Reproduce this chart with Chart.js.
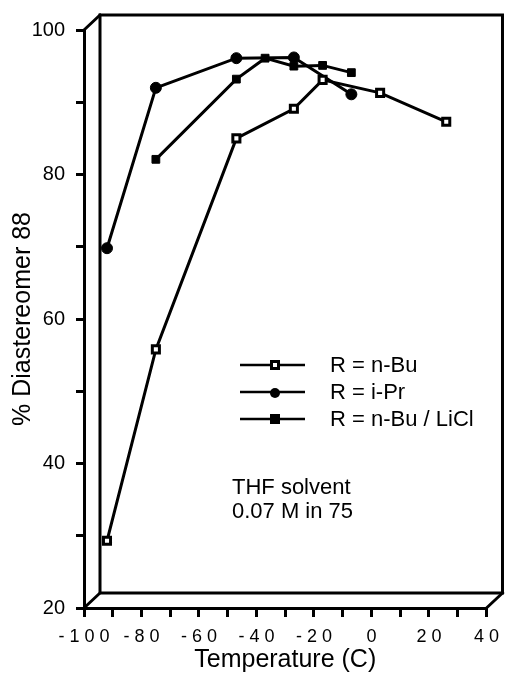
<!DOCTYPE html>
<html>
<head>
<meta charset="utf-8">
<script src="https://cdn.jsdelivr.net/npm/chart.js@4.4.1/dist/chart.umd.min.js"></script>
<style>
  html, body { margin: 0; padding: 0; background: #fff; }
  canvas { display: block; }
</style>
</head>
<body>
<canvas id="chart" width="508" height="675"></canvas>
<script>
// temperatures (C) and % diastereomer 88 for each series
const nBuTemp = [-92, -75, -47, -27, -17, 3, 26];
const nBuPct = [29.3, 55.8, 85.0, 89.1, 93.1, 91.3, 87.3];
const iPrTemp = [-92, -75, -47, -27, -7];
const iPrPct = [69.8, 92.0, 96.1, 96.2, 91.1];
const liclTemp = [-75, -47, -37, -27, -17, -7];
const liclPct = [82.1, 93.2, 96.1, 95.0, 95.1, 94.1];

const seriesNames = ["R = n-Bu", "R = i-Pr", "R = n-Bu / LiCl"];
const noteLines = ["THF solvent", "0.07 M in 75"];

const FONT = "'Liberation Sans', Arial, Helvetica, sans-serif";
Chart.defaults.font.family = FONT;
Chart.defaults.color = "#000";

function pts(xs, ys) {
    return xs.map((x, i) => ({ x: x, y: ys[i] }));
}

// spread the digits like the original typesetting
function spaced(v) {
    return String(v).split("").join(" ");
}

const DX = 16, DY = -15;

const box3d = {
    id: "box3d",
    beforeDatasetsDraw(chart) {
        const { ctx, chartArea: a } = chart;
        ctx.save();
        ctx.strokeStyle = "#000";
        ctx.lineWidth = 3;
        ctx.lineCap = "square";
        // back wall
        ctx.beginPath();
        ctx.rect(a.left + DX, a.top + DY, a.right - a.left, a.bottom - a.top);
        ctx.stroke();
        // depth edges
        ctx.beginPath();
        ctx.moveTo(a.left, a.top);
        ctx.lineTo(a.left + DX, a.top + DY);
        ctx.moveTo(a.left, a.bottom);
        ctx.lineTo(a.left + DX, a.bottom + DY);
        ctx.moveTo(a.right, a.bottom);
        ctx.lineTo(a.right + DX, a.bottom + DY);
        ctx.stroke();
        ctx.restore();
    },
    afterDatasetsDraw(chart) {
        const { ctx } = chart;
        ctx.save();
        // legend
        const rows = [365, 392, 419];
        ctx.font = "22px " + FONT;
        ctx.textBaseline = "middle";
        ctx.textAlign = "left";
        rows.forEach((y, i) => {
            ctx.strokeStyle = "#000";
            ctx.lineWidth = 2.5;
            ctx.beginPath();
            ctx.moveTo(240, y);
            ctx.lineTo(305, y);
            ctx.stroke();
            ctx.fillStyle = "#000";
            if (i === 0) {
                ctx.fillRect(270, y - 5, 10, 10);
                ctx.fillStyle = "#fff";
                ctx.fillRect(273, y - 2, 4, 4);
            } else if (i === 1) {
                ctx.beginPath();
                ctx.arc(275, y + 1, 5, 0, Math.PI * 2);
                ctx.fill();
            } else {
                ctx.fillRect(270, y - 5, 10, 10);
            }
            ctx.fillStyle = "#000";
            ctx.fillText(seriesNames[i], 330, y + 1);
        });
        // note
        ctx.font = "22px " + FONT;
        ctx.fillText(noteLines[0], 232, 488);
        ctx.fillText(noteLines[1], 232, 512);
        ctx.restore();
    }
};

const lineStyle = {
    borderColor: "#000",
    borderWidth: 3,
    pointBorderColor: "#000",
    tension: 0,
    showLine: true,
    fill: false
};

new Chart(document.getElementById("chart"), {
    type: "scatter",
    data: {
        datasets: [
            Object.assign({}, lineStyle, {
                label: seriesNames[0],
                data: pts(nBuTemp, nBuPct),
                pointStyle: "rect",
                pointRadius: 5,
                pointBorderWidth: 3,
                pointBackgroundColor: "#fff"
            }),
            Object.assign({}, lineStyle, {
                label: seriesNames[1],
                data: pts(iPrTemp, iPrPct),
                pointStyle: "circle",
                pointRadius: 5.5,
                pointBorderWidth: 1,
                pointBackgroundColor: "#000"
            }),
            Object.assign({}, lineStyle, {
                label: seriesNames[2],
                data: pts(liclTemp, liclPct),
                pointStyle: "rect",
                pointRadius: 5.5,
                pointBorderWidth: 1,
                pointBackgroundColor: "#000"
            })
        ]
    },
    plugins: [box3d],
    options: {
        responsive: false,
        animation: false,
        layout: { padding: { top: 30, right: 21, bottom: 0, left: 0 } },
        plugins: {
            legend: { display: false },
            tooltip: { enabled: false }
        },
        scales: {
            x: {
                type: "linear",
                min: -100,
                max: 40,
                afterFit(scale) { scale.height = 67; },
                ticks: {
                    stepSize: 10,
                    autoSkip: false,
                    maxRotation: 0,
                    padding: 9,
                    font: { size: 18 },
                    callback: v => (v % 20 === 0 ? spaced(v) : "")
                },
                grid: {
                    drawOnChartArea: false,
                    drawTicks: true,
                    tickLength: 9,
                    color: "#000",
                    lineWidth: 3
                },
                border: { display: true, color: "#000", width: 3 },
                title: {
                    display: true,
                    text: "Temperature (C)",
                    font: { size: 25 },
                    padding: { top: 0, bottom: 0 }
                }
            },
            y: {
                type: "linear",
                min: 20,
                max: 100,
                afterFit(scale) { scale.width = 84; },
                ticks: {
                    stepSize: 10,
                    padding: 11,
                    font: { size: 20 },
                    callback: v => (v % 20 === 0 ? String(v) : "")
                },
                grid: {
                    drawOnChartArea: false,
                    drawTicks: true,
                    tickLength: 8,
                    color: "#000",
                    lineWidth: 3
                },
                border: { display: true, color: "#000", width: 3 },
                title: {
                    display: true,
                    text: "% Diastereomer 88",
                    font: { size: 25 },
                    padding: { top: 8, bottom: 0 }
                }
            }
        }
    }
});
</script>
</body>
</html>
